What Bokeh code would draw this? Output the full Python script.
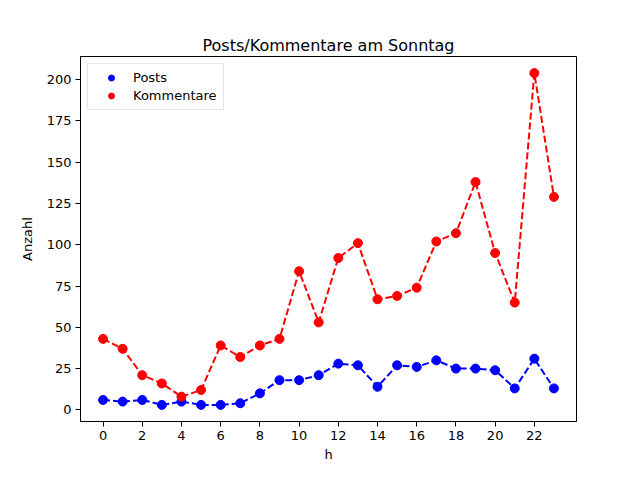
from bokeh.plotting import figure
from bokeh.models import Range1d, FixedTicker
from bokeh.embed import file_html
from bokeh.resources import INLINE

hours = list(range(24))
posts = [6, 5, 6, 3, 5, 3, 3, 4, 10, 18, 18, 21, 28, 27, 14, 27, 26, 30, 25, 25, 24, 13, 31, 13]
kommentare = [43, 37, 21, 16, 8, 12, 39, 32, 39, 43, 84, 53, 92, 101, 67, 69, 74, 102, 107, 138, 95, 65, 204, 129]
x_ticks = list(range(0, 24, 2))
y_ticks = list(range(0, 201, 25))

FONT = "DejaVu Sans"

p = figure(width=624, height=464, output_backend="svg", toolbar_location=None,
           title="Posts/Kommentare am Sonntag",
           x_range=Range1d(-1.15, 24.15), y_range=Range1d(-7.05, 214.05),
           min_border_left=80, min_border_right=48, min_border_top=56, min_border_bottom=42)

p.title.text_font = FONT
p.title.text_font_size = "16px"
p.title.text_font_style = "normal"
p.title.text_color = "black"
p.title.align = "center"
p.title.standoff = 4

p.line(hours, posts, line_color="blue", line_width=2, line_dash="7 3")
p.line(hours, kommentare, line_color="red", line_width=2, line_dash="7 3")
p.scatter(hours, posts, size=9, fill_color="blue", line_color="blue", legend_label="Posts")
p.scatter(hours, kommentare, size=9, fill_color="red", line_color="red", legend_label="Kommentare")

p.xgrid.visible = False
p.ygrid.visible = False
p.outline_line_color = "black"
p.outline_line_width = 1

for ax in (p.xaxis[0], p.yaxis[0]):
    ax.axis_line_color = "black"
    ax.major_tick_line_color = "black"
    ax.major_tick_out = 5
    ax.major_tick_in = 0
    ax.minor_tick_line_color = None
    ax.major_label_standoff = 4
    ax.major_label_text_color = "black"
    ax.major_label_text_font = FONT
    ax.major_label_text_font_size = "13px"
    ax.axis_label_text_color = "black"
    ax.axis_label_text_font = FONT
    ax.axis_label_text_font_size = "13px"
    ax.axis_label_text_font_style = "normal"

p.xaxis.ticker = FixedTicker(ticks=x_ticks)
p.yaxis.ticker = FixedTicker(ticks=y_ticks)
p.xaxis.axis_label = "h"
p.yaxis.axis_label = "Anzahl"
p.xaxis.axis_label_standoff = 4
p.yaxis.axis_label_standoff = 9

p.legend.location = "top_left"
p.legend.margin = 7
p.legend.padding = 6
p.legend.spacing = 3
p.legend.glyph_width = 34
p.legend.glyph_height = 15
p.legend.label_text_font = FONT
p.legend.label_text_font_size = "13px"
p.legend.label_text_color = "black"
p.legend.label_standoff = 5
p.legend.border_line_color = "#cccccc"
p.legend.border_line_width = 1
p.legend.background_fill_alpha = 0.8

open("out.html", "w").write(file_html(p, INLINE))
